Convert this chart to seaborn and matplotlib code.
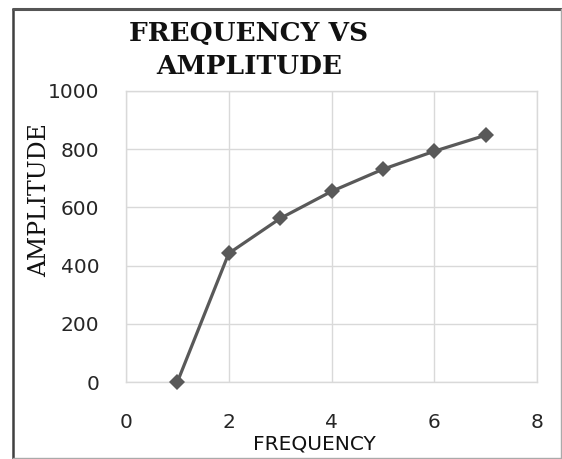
import matplotlib
matplotlib.use("Agg")
import matplotlib.pyplot as plt
from matplotlib.lines import Line2D
import seaborn as sns
import pandas as pd

# Data
frequency = [1, 2, 3, 4, 5, 6, 7]
amplitude = [0, 442, 562, 655, 731, 793, 848]
x_ticks = [0, 2, 4, 6, 8]
y_ticks = [0, 200, 400, 600, 800, 1000]
title_text = "FREQUENCY VS\nAMPLITUDE"
x_label = "FREQUENCY"
y_label = "AMPLITUDE"

df = pd.DataFrame({"frequency": frequency, "amplitude": amplitude})

sns.set_theme(style="white")
plt.rcParams["font.family"] = ["DejaVu Sans"]

fig = plt.figure(figsize=(5.62, 4.59), dpi=100)
ax = fig.add_axes([126 / 562, 1 - 382 / 459, (537 - 126) / 562, (382 - 91) / 459])

sns.lineplot(data=df, x="frequency", y="amplitude", ax=ax, color="#595959",
             linewidth=2.3, marker="D", markersize=8.5, markeredgewidth=0,
             markerfacecolor="#595959", clip_on=False, zorder=3)

ax.set_xlim(0, 8)
ax.set_ylim(0, 1000)
ax.set_xticks(x_ticks)
ax.set_yticks(y_ticks)
ax.set_xticklabels([str(t) for t in x_ticks])
ax.set_yticklabels([str(t) for t in y_ticks])

grid_c = "#d9d9d9"
ax.grid(True, color=grid_c, linewidth=1.0)
for s in ax.spines.values():
    s.set_color(grid_c)
    s.set_linewidth(1.0)
ax.tick_params(axis="both", length=0, labelsize=14.5, colors="#262626")
ax.tick_params(axis="y", pad=19)
ax.tick_params(axis="x", pad=22.5)

ax.set_xlabel(x_label, fontsize=14.5, color="#111111", family="DejaVu Sans")
ax.xaxis.set_label_coords((314 - 126) / 411, (382 - 444) / 291)
ax.xaxis.label.set_va("center")

ax.set_ylabel(y_label, fontsize=17, color="#111111", family="DejaVu Serif")
ax.yaxis.set_label_coords((40 - 126) / 411, (382 - 200) / 291)
ax.yaxis.label.set_va("center")
ax.yaxis.label.set_ha("center")

fig.text(249 / 562, 1 - 50 / 459, title_text, ha="center", va="center",
         fontsize=19, fontweight="bold", family="DejaVu Serif",
         color="#111111", linespacing=1.4)

# Frame around the picture
fig.add_artist(Line2D([13 / 562, 13 / 562], [1 - 458 / 459, 1 - 8.5 / 459],
                      transform=fig.transFigure, color="#404040", linewidth=1.8))
fig.add_artist(Line2D([13 / 562, 561 / 562], [1 - 8.5 / 459, 1 - 8.5 / 459],
                      transform=fig.transFigure, color="#555555", linewidth=2.2))
fig.add_artist(Line2D([561 / 562, 561 / 562], [1 - 458 / 459, 1 - 8.5 / 459],
                      transform=fig.transFigure, color="#aaaaaa", linewidth=1.0))
fig.add_artist(Line2D([13 / 562, 561 / 562], [1 - 458 / 459, 1 - 458 / 459],
                      transform=fig.transFigure, color="#aaaaaa", linewidth=1.0))

fig.savefig("out.png", dpi=100)
